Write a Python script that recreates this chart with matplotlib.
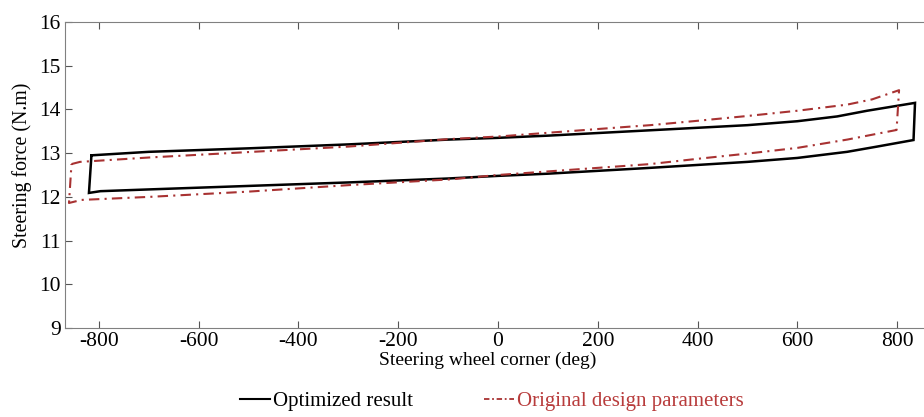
import matplotlib
matplotlib.use("Agg")
import matplotlib.pyplot as plt
from matplotlib.lines import Line2D

plt.rcParams['font.family'] = ['Liberation Serif', 'DejaVu Serif']
plt.rcParams['axes.unicode_minus'] = False

# Optimized result loop (upper branch left->right, right edge, lower branch right->left)
opt_x = [-815, -700, -500, -300, -100, 0, 100, 300, 500, 600, 680, 740, 836,
         833, 760, 700, 600, 500, 300, 100, 0, -100, -300, -500, -700, -797, -820, -815]
opt_y = [12.95, 13.03, 13.11, 13.20, 13.31, 13.35, 13.40, 13.52, 13.64, 13.73, 13.84, 13.97, 14.15,
         13.30, 13.15, 13.03, 12.89, 12.80, 12.66, 12.53, 12.48, 12.42, 12.33, 12.25, 12.17, 12.13, 12.09, 12.95]

# Original design parameters loop
orig_x = [-855, -838, -700, -300, -100, 0, 245, 305, 400, 500, 600, 700, 750, 804,
          799, 700, 600, 500, 400, 305, 245, 0, -96, -297, -500, -698, -835, -860, -855]
orig_y = [12.75, 12.80, 12.90, 13.15, 13.32, 13.38, 13.59, 13.64, 13.74, 13.85, 13.97, 14.11, 14.23, 14.44,
          13.53, 13.31, 13.12, 12.99, 12.87, 12.75, 12.70, 12.50, 12.40, 12.27, 12.12, 12.00, 11.93, 11.86, 12.75]

x_ticks = [-800, -600, -400, -200, 0, 200, 400, 600, 800]
y_ticks = [9, 10, 11, 12, 13, 14, 15, 16]

red = '#a83232'
fig = plt.figure(figsize=(9.24, 4.17), dpi=100)
ax = fig.add_axes([65/924, 1-328/417, (923-65)/924, (328-22)/417])

ax.plot(opt_x, opt_y, color='black', lw=1.8, solid_joinstyle='miter')
ax.plot(orig_x, orig_y, color=red, lw=1.5, dashes=[5, 2.5, 1, 2.5])

ax.set_xlim(-868, 852)
ax.set_ylim(9, 16)
ax.set_xticks(x_ticks)
ax.set_yticks(y_ticks)
ax.tick_params(direction='in', length=5, labelsize=15.5, top=True, right=False,
               color='#555555', pad=3)
for s in ['left', 'bottom', 'top']:
    ax.spines[s].set_color('#808080')
ax.spines['right'].set_visible(False)

fig.text(22/924, 1-165/417, 'Steering force (N.m)', fontsize=14.3, rotation=90,
         ha='center', va='center')
fig.text(488/924, 1-360/417, 'Steering wheel corner (deg)', fontsize=14, ha='center', va='center')

h1 = Line2D([], [], color='black', lw=1.5)
h2 = Line2D([], [], color=red, lw=1.3, dashes=[3, 1.5, 1, 1.5])
leg = fig.legend([h1, h2], ['Optimized result', 'Original design parameters'],
                 loc='center', bbox_to_anchor=(492/924, 1-401/417), ncol=2, frameon=False,
                 fontsize=15, handlelength=1.45, handletextpad=0.15, columnspacing=3.4)
leg.get_texts()[1].set_color('#b83c3c')

fig.savefig('out.png', dpi=100)
